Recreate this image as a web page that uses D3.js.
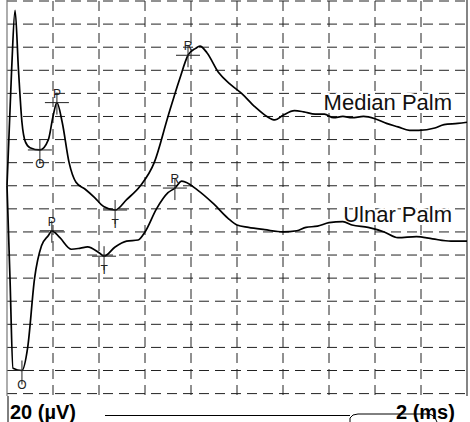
<!DOCTYPE html>
<html>
<head>
<meta charset="utf-8">
<script src="https://cdn.jsdelivr.net/npm/d3@7"></script>
<style>
  body { margin: 0; background: #fff; font-family: Arial, 'Liberation Sans', sans-serif; }
</style>
</head>
<body>
<svg id="chart" width="470" height="422"></svg>
<script>
// time in ms, amplitude in uV (offset traces, 0 at top of the grid)
var medianTrace = [
  [0.0,-160],[0.2,-60],[0.35,-8],[0.5,-60],[0.65,-105],[0.8,-122],[1.0,-127],[1.43,-129],
  [1.8,-120],[2.0,-100],[2.17,-88],[2.4,-105],[2.7,-140],[3.0,-157],[3.4,-163],[3.8,-170],
  [4.2,-178],[4.7,-181],[5.2,-172],[5.8,-160],[6.4,-140],[7.0,-100],[7.5,-68],[7.87,-47],
  [8.2,-41],[8.39,-39],[8.7,-45],[9.2,-62],[9.7,-72],[10.2,-80],[10.8,-92],[11.3,-100],
  [11.65,-103],[12.0,-99],[12.5,-95],[12.9,-96],[13.4,-98],[13.8,-98],[14.2,-101],[14.6,-100],
  [15.0,-101],[15.5,-100],[16.0,-102],[16.5,-106],[17.0,-109],[17.5,-112],[17.9,-112],
  [18.6,-110],[19.0,-107],[19.6,-106],[20,-105]
];
var ulnarTrace = [
  [0.0,-160],[0.13,-240],[0.26,-318],[0.65,-320],[0.9,-300],[1.2,-240],[1.5,-212],[1.8,-203],
  [1.95,-199],[2.3,-205],[2.8,-215],[3.2,-214],[3.5,-213],[4.0,-218],[4.22,-221],[4.7,-213],
  [5.2,-208],[5.7,-207],[6.0,-200],[6.5,-180],[7.0,-166],[7.3,-162],[7.6,-156],[8.3,-164],
  [9.0,-176],[9.6,-188],[10.0,-194],[10.5,-196],[11.2,-198],[12.0,-200],[12.6,-199],
  [13.0,-196],[13.5,-195],[14.0,-192],[14.6,-191],[15.0,-194],[15.7,-196],[16.4,-200],
  [17.0,-205],[17.8,-204],[18.5,-206],[19.3,-208],[20,-208]
];
var traceNames = ["Median Palm", "Ulnar Palm"];
var medianMarks = [["O",1.43,-129,"below"],["P",2.17,-88,"above"],["T",4.7,-181,"below"],["R",7.87,-47,"above"]];
var ulnarMarks = [["O",0.65,-320,"below"],["P",1.95,-199,"above"],["T",4.22,-221,"below"],["R",7.3,-162,"above"]];
var xTicks = d3.range(0, 21, 2);      // 2 ms / div
var yTicks = d3.range(0, -341, -20);  // 20 uV / div
var scaleLabels = ["20  (\u00b5V)", "2  (ms)"];

var svg = d3.select("#chart");
var x = d3.scaleLinear().domain([0, 20]).range([7, 467]);
var y = d3.scaleLinear().domain([0, -340]).range([1, 393.6]);

// grid
svg.append("g").selectAll("line").data(xTicks.slice(1, -1)).join("line")
  .attr("x1", d => x(d)).attr("x2", d => x(d)).attr("y1", 1).attr("y2", 410)
  .attr("stroke", "#222").attr("stroke-width", 1).attr("stroke-dasharray", "10,6");
svg.append("g").selectAll("line").data(yTicks).join("line")
  .attr("x1", x(0)).attr("x2", x(20)).attr("y1", d => y(d)).attr("y2", d => y(d))
  .attr("stroke", "#222").attr("stroke-width", 1).attr("stroke-dasharray", "10,6");
svg.append("line").attr("x1", x(0)).attr("x2", x(0)).attr("y1", 0).attr("y2", 400)
  .attr("stroke", "#777").attr("stroke-width", 1.2);
svg.append("line").attr("x1", x(20)).attr("x2", x(20)).attr("y1", 0).attr("y2", 400)
  .attr("stroke", "#333").attr("stroke-width", 1.2);

// trace labels
var labelInfo = [[traceNames[0], -99], [traceNames[1], -196]];
labelInfo.forEach(function(l) {
  svg.append("text").attr("x", 452).attr("y", y(l[1]) - 5).attr("text-anchor", "end")
    .attr("font-size", 22).attr("fill", "#111")
    .attr("stroke", "#fff").attr("stroke-width", 4).attr("paint-order", "stroke")
    .text(l[0]);
});

// traces
var line = d3.line().x(d => x(d[0])).y(d => y(d[1])).curve(d3.curveMonotoneX);
[medianTrace, ulnarTrace].forEach(function(t) {
  svg.append("path").datum(t).attr("d", line)
    .attr("fill", "none").attr("stroke", "#000").attr("stroke-width", 1.7);
});

// markers
medianMarks.concat(ulnarMarks).forEach(function(m) {
  var cx = x(m[1]), cy = y(m[2]);
  var g = svg.append("g").attr("stroke", "#222").attr("stroke-width", 1);
  g.append("line").attr("x1", cx - 12).attr("x2", cx + 12).attr("y1", cy).attr("y2", cy);
  var dy = m[3] === "above" ? [-10, 12] : [-10, 14];
  g.append("line").attr("x1", cx).attr("x2", cx).attr("y1", cy + dy[0]).attr("y2", cy + dy[1]);
  svg.append("text").attr("x", cx).attr("y", m[3] === "above" ? cy - 5 : cy + 18)
    .attr("text-anchor", "middle").attr("font-size", 12).attr("fill", "#222").text(m[0]);
});

// scale footer
svg.append("rect").attr("x", 0).attr("y", 396).attr("width", 470).attr("height", 26).attr("fill", "#fff");
svg.append("line").attr("x1", 8).attr("x2", 8).attr("y1", 396).attr("y2", 422).attr("stroke", "#000");
svg.append("line").attr("x1", 105).attr("x2", 350).attr("y1", 415.5).attr("y2", 415.5).attr("stroke", "#000");
svg.append("path").attr("d", "M350,422 L350,418 Q352,414 358,414 L428,414 Q434,414 437,422")
  .attr("fill", "none").attr("stroke", "#000");
svg.append("text").attr("x", 10).attr("y", 419).attr("font-size", 20).attr("font-weight", "bold").text(scaleLabels[0]);
svg.append("text").attr("x", 396).attr("y", 419).attr("font-size", 20).attr("font-weight", "bold").text(scaleLabels[1]);
</script>
</body>
</html>
